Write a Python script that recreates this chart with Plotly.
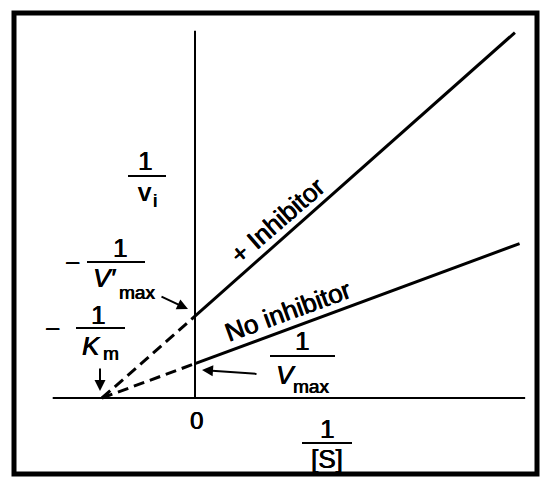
import plotly.graph_objects as go

# Lineweaver-Burk plot: 1/v_i against 1/[S], with and without a noncompetitive inhibitor
neg_inv_km = -1.0                       # shared x-intercept, -1/Km
inv_vmax = 0.37                         # y-intercept without inhibitor, 1/Vmax
inv_vmax_prime = 0.88                   # y-intercept with inhibitor, 1/V'max

no_inh_x = [0.0, 3.49]
no_inh_y = [inv_vmax, 1.66]
plus_inh_x = [0.0, 3.44]
plus_inh_y = [inv_vmax_prime, 3.93]

axis_x_extent = [-1.53, 3.55]
axis_y_extent = [0.0, 3.95]

W, H = 542, 477
ORIGIN_PX = (195, 398)
UNIT_PX = 93.0
FONT = "Liberation Sans, Arial, Helvetica, sans-serif"
INK = "0.5px 0px 0px black, -0.3px 0px 0px black"   # slightly heavier strokes


def px(x, y):
    """Figure pixel position -> paper coordinates."""
    return x / W, 1 - y / H


fig = go.Figure()

# extrapolated (dashed) parts back to -1/Km
for y0 in (inv_vmax_prime, inv_vmax):
    fig.add_trace(go.Scatter(x=[neg_inv_km, 0.0], y=[0.0, y0], mode="lines",
                             line=dict(color="black", width=3, dash="11px,6px"),
                             hoverinfo="skip", showlegend=False))

# measured (solid) lines
for xs, ys in ((plus_inh_x, plus_inh_y), (no_inh_x, no_inh_y)):
    fig.add_trace(go.Scatter(x=xs, y=ys, mode="lines",
                             line=dict(color="black", width=3),
                             hoverinfo="skip", showlegend=False))

shapes = []
# axes
shapes.append(dict(type="line", xref="x", yref="y", x0=axis_x_extent[0], x1=axis_x_extent[1],
                   y0=0, y1=0, line=dict(color="black", width=2)))
shapes.append(dict(type="line", xref="x", yref="y", x0=0, x1=0,
                   y0=axis_y_extent[0], y1=axis_y_extent[1], line=dict(color="black", width=2)))
# frame
shapes.append(dict(type="rect", xref="paper", yref="paper",
                   x0=14 / W, x1=537 / W, y0=1 - 474 / H, y1=1 - 13 / H,
                   line=dict(color="black", width=5)))


def frac_bar(x0, x1, y):
    a, b = px(x0, y)
    c, _ = px(x1, y)
    shapes.append(dict(type="line", xref="paper", yref="paper", x0=a, x1=c, y0=b, y1=b,
                       line=dict(color="black", width=2)))


annotations = []


def label(text, x, y, size=26, angle=0):
    a, b = px(x, y)
    annotations.append(dict(text=text, x=a, y=b, xref="paper", yref="paper",
                            xanchor="center", yanchor="middle", showarrow=False,
                            textangle=angle,
                            font=dict(family=FONT, size=size, color="black", shadow=INK)))


def arrow(x_tail, y_tail, x_head, y_head):
    a, b = px(x_head, y_head)
    annotations.append(dict(text="", x=a, y=b, xref="paper", yref="paper",
                            ax=x_tail - x_head, ay=y_tail - y_head, showarrow=True,
                            arrowhead=2, arrowsize=1.1, arrowwidth=2, arrowcolor="black"))


# 1 / v_i
label("1", 145, 161)
frac_bar(128, 166, 176)
label("v", 144, 192)
label("i", 155, 200, size=19)

# - 1 / V'max
label("\u2212", 72, 263)
label("1", 120, 248)
frac_bar(87, 145, 262)
label("<i>V\u2032</i>", 104, 278)
label("max", 137, 292, size=19)
arrow(160, 296, 188, 309)

# - 1 / Km
label("\u2212", 52, 329)
label("1", 98, 315)
frac_bar(76, 125, 328)
label("<i>K</i>", 91, 346)
label("m", 111, 353, size=19)
arrow(100, 367, 100, 391)

# 1 / Vmax
label("1", 302, 341)
frac_bar(270, 335, 356)
label("<i>V</i>", 286, 375)
label("max", 311, 386, size=19)
arrow(258, 374, 202, 370)

# origin and x-axis title
label("0", 196, 420, size=24)
label("1", 327, 429)
frac_bar(302, 352, 443)
label("[S]", 327, 459)

# line labels
label("+ Inhibitor", 277, 221, angle=-41)
label("No inhibitor", 288, 311, angle=-20)

fig.update_layout(
    width=W, height=H, autosize=False,
    margin=dict(l=0, r=0, t=0, b=0, pad=0),
    paper_bgcolor="white", plot_bgcolor="white",
    xaxis=dict(visible=False, range=[(0 - ORIGIN_PX[0]) / UNIT_PX, (W - ORIGIN_PX[0]) / UNIT_PX]),
    yaxis=dict(visible=False, range=[(ORIGIN_PX[1] - H) / UNIT_PX, ORIGIN_PX[1] / UNIT_PX]),
    shapes=shapes, annotations=annotations,
)

fig.write_html("out.html")
